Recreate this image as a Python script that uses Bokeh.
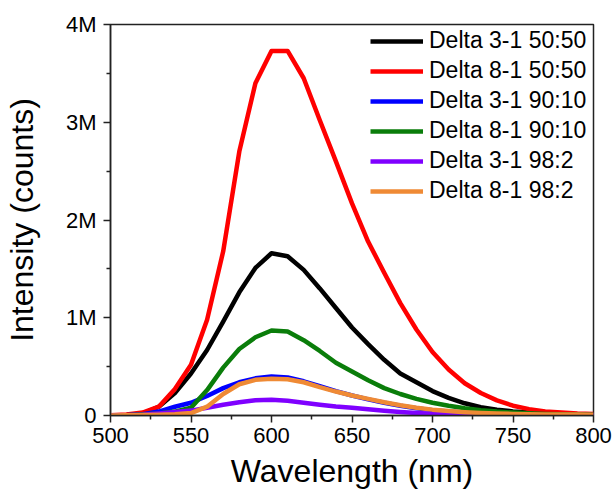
from bokeh.plotting import figure
from bokeh.models import (Range1d, FixedTicker, CustomJSTickFormatter, Legend, LegendItem)
from bokeh.embed import file_html
from bokeh.resources import INLINE

# Wavelength (nm)
wavelength = [500, 510, 520, 530, 540, 550, 560, 570, 580, 590, 600, 610, 620, 630, 640,
              650, 660, 670, 680, 690, 700, 710, 720, 730, 740, 750, 760, 770, 780, 790, 800]

# Intensity in millions of counts
delta31_5050 = [0.0, 0.005, 0.02, 0.09, 0.23, 0.43, 0.67, 0.96, 1.26, 1.51, 1.66, 1.63, 1.49, 1.30, 1.10,
                0.90, 0.73, 0.57, 0.43, 0.34, 0.25, 0.18, 0.125, 0.085, 0.06, 0.042, 0.03, 0.02, 0.015, 0.01, 0.008]
delta81_5050 = [0.003, 0.01, 0.03, 0.09, 0.27, 0.52, 0.98, 1.68, 2.70, 3.40, 3.73, 3.73, 3.45, 3.02, 2.60,
                2.17, 1.78, 1.46, 1.15, 0.88, 0.65, 0.47, 0.33, 0.23, 0.155, 0.10, 0.065, 0.042, 0.03, 0.02, 0.015]
delta31_9010 = [0.0, 0.003, 0.012, 0.04, 0.09, 0.13, 0.20, 0.28, 0.34, 0.38, 0.40, 0.39, 0.35, 0.30, 0.25,
                0.205, 0.165, 0.13, 0.10, 0.075, 0.055, 0.04, 0.03, 0.022, 0.016, 0.012, 0.009, 0.007, 0.006, 0.005, 0.004]
delta81_9010 = [0.0, 0.003, 0.01, 0.02, 0.04, 0.08, 0.26, 0.49, 0.68, 0.80, 0.87, 0.86, 0.77, 0.66, 0.54,
                0.45, 0.36, 0.28, 0.22, 0.17, 0.13, 0.10, 0.075, 0.055, 0.04, 0.03, 0.022, 0.016, 0.012, 0.01, 0.008]
delta31_982 = [0.0, 0.003, 0.008, 0.02, 0.035, 0.05, 0.08, 0.11, 0.135, 0.155, 0.16, 0.15, 0.13, 0.11, 0.093,
               0.08, 0.063, 0.048, 0.035, 0.025, 0.017, 0.01, 0.006, 0.004, 0.003, 0.003, 0.002, 0.002, 0.002, 0.002, 0.002]
delta81_982 = [0.0, 0.002, 0.005, 0.008, 0.012, 0.025, 0.09, 0.22, 0.32, 0.365, 0.375, 0.37, 0.34, 0.29, 0.245,
               0.205, 0.17, 0.135, 0.105, 0.08, 0.06, 0.045, 0.034, 0.026, 0.02, 0.016, 0.013, 0.011, 0.01, 0.009, 0.008]

series_names = ["Delta 3-1 50:50", "Delta 8-1 50:50", "Delta 3-1 90:10",
                "Delta 8-1 90:10", "Delta 3-1 98:2", "Delta 8-1 98:2"]
series_values = [delta31_5050, delta81_5050, delta31_9010, delta81_9010, delta31_982, delta81_982]
series_colors = ["#000000", "#ff0000", "#0000ff", "#0a7d0a", "#7f00ff", "#ef8a35"]

x_ticks = [500, 550, 600, 650, 700, 750, 800]
x_minor = [525, 575, 625, 675, 725, 775]
y_ticks = [0, 1, 2, 3, 4]
y_minor = [0.5, 1.5, 2.5, 3.5]

FONT = "Liberation Sans"

p = figure(width=615, height=493, output_backend="svg", toolbar_location=None,
           x_range=Range1d(500, 800), y_range=Range1d(0, 4),
           min_border_left=107, min_border_right=22, min_border_top=24, min_border_bottom=78)
p.grid.visible = False
p.background_fill_color = "white"
p.border_fill_color = "white"
p.outline_line_color = "#222222"
p.outline_line_width = 1.5

items = []
for name, vals, col in zip(series_names, series_values, series_colors):
    r = p.line(wavelength, vals, line_color=col, line_width=4.5, line_join="round")
    items.append(LegendItem(label=name, renderers=[r]))

# axes
xa = p.xaxis[0]
xa.ticker = FixedTicker(ticks=x_ticks, minor_ticks=x_minor)
xa.axis_label = "Wavelength (nm)"
ya = p.yaxis[0]
ya.ticker = FixedTicker(ticks=y_ticks, minor_ticks=y_minor)
ya.formatter = CustomJSTickFormatter(code="return tick == 0 ? '0' : tick.toFixed(0) + 'M';")
ya.axis_label = "Intensity (counts)"
for ax in (xa, ya):
    ax.axis_line_color = "#222222"
    ax.axis_line_width = 1.5
    ax.major_tick_line_color = "#222222"
    ax.minor_tick_line_color = "#222222"
    ax.major_tick_line_width = 1.5
    ax.minor_tick_line_width = 1.5
    ax.major_tick_in = 0
    ax.major_tick_out = 7
    ax.minor_tick_in = 0
    ax.minor_tick_out = 4
    ax.major_label_text_font = FONT
    ax.major_label_text_font_size = "22px"
    ax.major_label_text_color = "black"
    ax.axis_label_text_font = FONT
    ax.axis_label_text_font_size = "32px"
    ax.axis_label_text_font_style = "normal"
    ax.axis_label_text_color = "black"
xa.major_label_standoff = 5
xa.axis_label_standoff = 7
ya.major_label_standoff = 7
ya.axis_label_standoff = 23

legend = Legend(items=items, location=(256, 207), margin=0, padding=4, spacing=3,
                glyph_width=53, glyph_height=22, label_height=22, label_standoff=6,
                label_text_font=FONT, label_text_font_size="23px", label_text_color="black",
                border_line_alpha=0, background_fill_alpha=0)
p.add_layout(legend, "center")

open("out.html", "w").write(file_html(p, INLINE))
